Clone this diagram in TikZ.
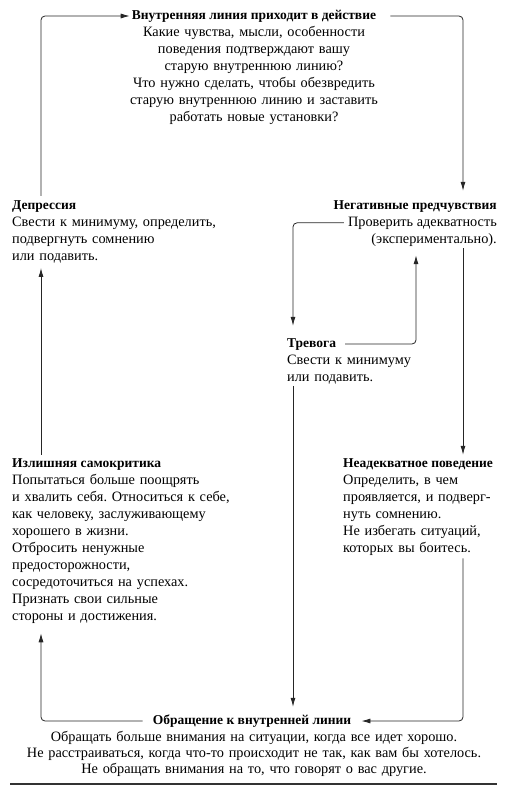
\documentclass[tikz,border=0pt]{standalone}
\usepackage{fontspec}
\setmainfont{Liberation Serif}
\usetikzlibrary{arrows.meta}
\frenchspacing
\begin{document}
\begin{tikzpicture}[x=1pt,y=-1pt,
  ttl/.style={font=\fontsize{13.5}{17}\selectfont\bfseries, inner sep=0pt, text height=9pt, text depth=3pt},
  bdy/.style={font=\fontsize{14.3}{17}\selectfont, inner sep=0pt},
  ln/.style={line width=0.8pt, draw=black!85, rounded corners=4pt},
  arr/.style={ln, -{Latex[length=9pt,width=5pt]}}]
\useasboundingbox (0,0) rectangle (509,790);
\coordinate (xl) at (41,0);
\coordinate (xm) at (293,0);
\coordinate (xe) at (416,0);
\coordinate (xr) at (463,0);

\node[ttl, anchor=base] (topT) at (254,19) {Внутренняя линия приходит в действие};
\node[bdy, anchor=base, text width=340pt, align=center] (topB) at (254,36) {Какие чувства, мысли, особенности\\поведения подтверждают вашу\\старую внутреннюю линию?\\Что нужно сделать, чтобы обезвредить\\старую внутреннюю линию и заставить\\работать новые установки?};

\node[ttl, anchor=base west] (depT) at (12,209) {Депрессия};
\node[bdy, anchor=base west, text width=240pt, align=left] (depB) at (12,226) {Свести к минимуму, определить,\\подвергнуть сомнению\\или подавить.};

\node[ttl, anchor=base east] (negT) at (497,209) {Негативные предчувствия};
\node[bdy, anchor=base east] (negB1) at (497,226) {Проверить адекватность};
\node[bdy, anchor=base east] (negB2) at (497,243) {(экспериментально).};

\node[ttl, anchor=base west] (trT) at (287,347) {Тревога};
\node[bdy, anchor=base west, text width=170pt, align=left] (trB) at (287,364) {Свести к минимуму\\или подавить.};

\node[ttl, anchor=base west] (izT) at (12,467) {Излишняя самокритика};
\node[bdy, anchor=base west, text width=250pt, align=left] (izB) at (12,484) {Попытаться больше поощрять\\и хвалить себя. Относиться к себе,\\как человеку, заслуживающему\\хорошего в жизни.\\Отбросить ненужные\\предосторожности,\\сосредоточиться на успехах.\\Признать свои сильные\\стороны и достижения.};

\node[ttl, anchor=base west] (neaT) at (343,467) {Неадекватное поведение};
\node[bdy, anchor=base west, text width=165pt, align=left] (neaB) at (343,484) {Определить, в чем\\проявляется, и подверг-\\нуть сомнению.\\Не избегать ситуаций,\\которых вы боитесь.};

\node[ttl, anchor=base] (obrT) at (252,724) {Обращение к внутренней линии};
\node[bdy, anchor=base, text width=505pt, align=center, font=\fontsize{14.3}{16}\selectfont] (obrB) at (254,741) {Обращать больше внимания на ситуации, когда все идет хорошо.\\Не расстраиваться, когда что-то происходит не так, как вам бы хотелось.\\Не обращать внимания на то, что говорят о вас другие.};

\coordinate (ruleL) at (10,784);
\coordinate (ruleR) at (497,784);
\draw[line width=1.2pt, black!80] (ruleL) -- (ruleR);

\draw[arr, shorten <=4pt, shorten >=2pt] (depT.north -| xl) |- (topT.west);
\draw[arr, shorten <=14pt, shorten >=9pt] (topT.east) -| (negT.north -| xr);
\draw[arr, shorten <=4pt, shorten >=12pt] (negB1.west) -| (trT.north -| xm);
\draw[arr, shorten <=9pt, shorten >=9pt] (trT.east) -| (negB2.south -| xe);
\draw[arr, shorten <=2pt, shorten >=3pt] (negB2.south -| xr) -- (neaT.north -| xr);
\draw[arr, shorten <=3pt, shorten >=10pt] (neaB.south -| xr) |- (obrT.east);
\draw[arr, shorten <=2pt, shorten >=8pt] (trB.south -| xm) -- (obrT.north -| xm);
\draw[arr, shorten <=10pt, shorten >=10pt] (obrT.west) -| (izB.south -| xl);
\draw[arr, shorten <=3pt, shorten >=5pt] (izT.north -| xl) -- (depB.south -| xl);
\end{tikzpicture}
\end{document}
